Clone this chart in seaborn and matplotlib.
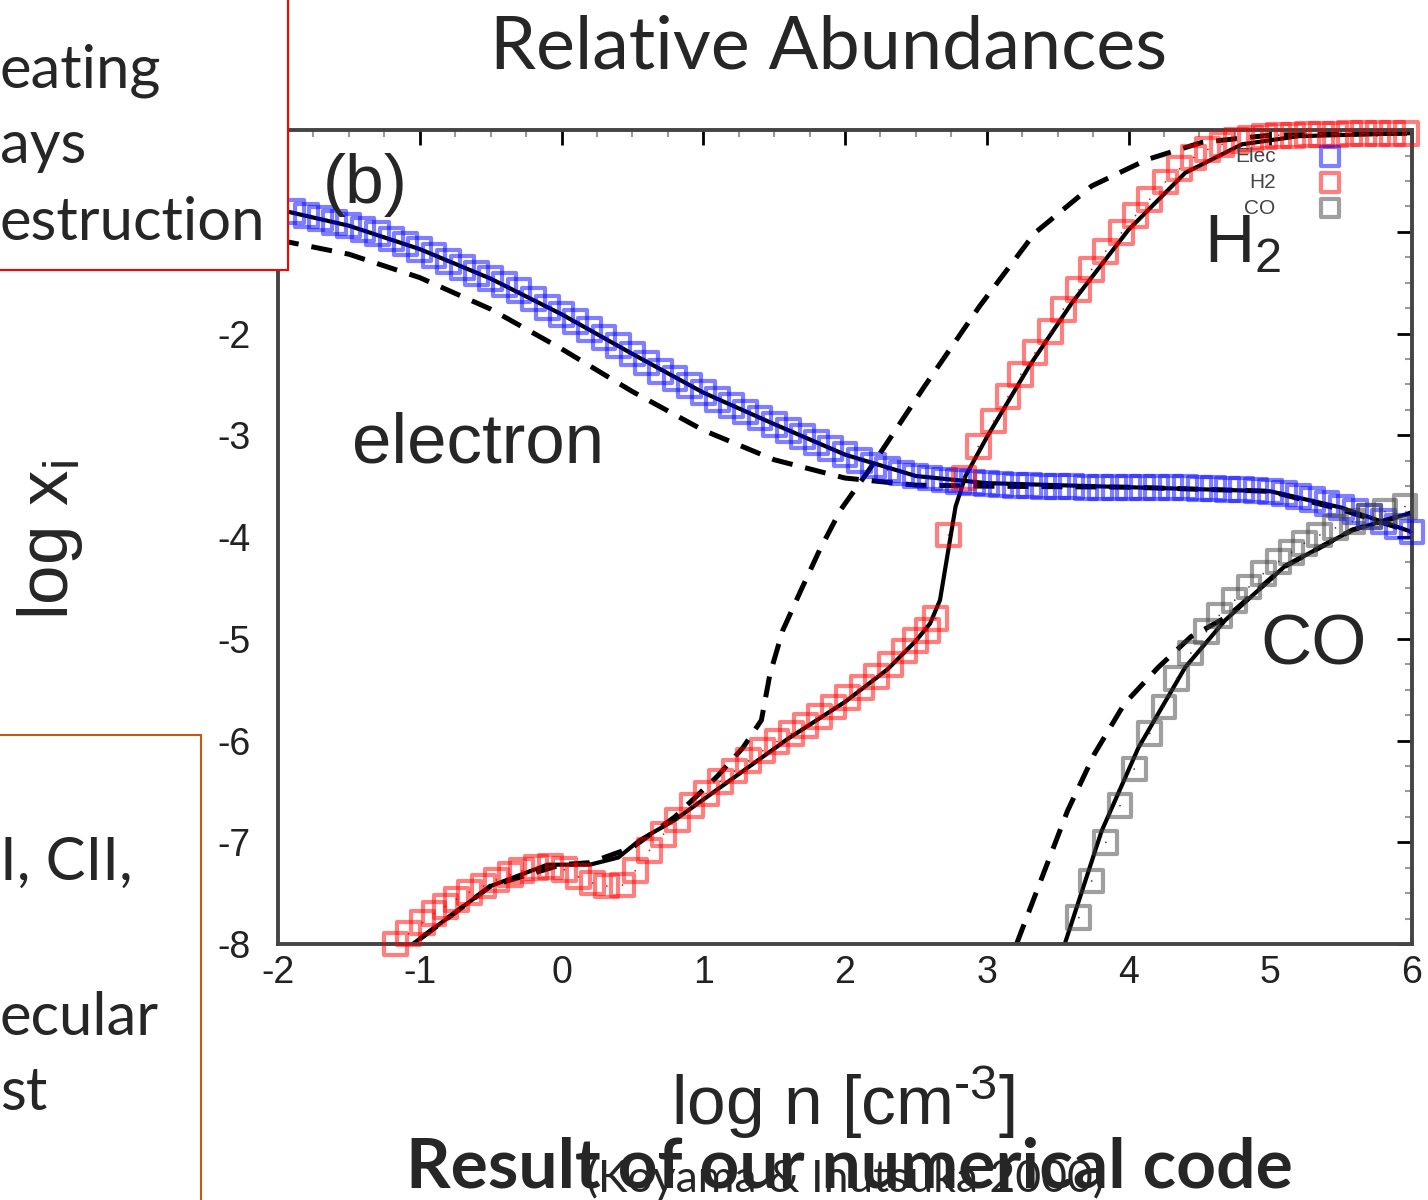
import numpy as np
import pandas as pd
import matplotlib.pyplot as plt
import seaborn as sns
from matplotlib.patches import Rectangle
from matplotlib.ticker import AutoMinorLocator

# --- electron, our code (blue squares)
elec_x = [-1.9, -1.8, -1.7, -1.6, -1.5, -1.4, -1.3, -1.2, -1.1, -1.0,
          -0.9, -0.8, -0.7, -0.6, -0.5, -0.4, -0.3, -0.2, -0.1, 0.0,
          0.1, 0.2, 0.3, 0.4, 0.5, 0.6, 0.7, 0.8, 0.9, 1.0,
          1.1, 1.2, 1.3, 1.4, 1.5, 1.6, 1.7, 1.8, 1.9, 2.0,
          2.1, 2.2, 2.3, 2.4, 2.5, 2.6, 2.7, 2.8, 2.9, 3.0,
          3.1, 3.2, 3.3, 3.4, 3.5, 3.6, 3.7, 3.8, 3.9, 4.0,
          4.1, 4.2, 4.3, 4.4, 4.5, 4.6, 4.7, 4.8, 4.9, 5.0,
          5.1, 5.2, 5.3, 5.4, 5.5, 5.6, 5.7, 5.8, 5.9, 6.0]
elec_y = [-0.80, -0.84, -0.87, -0.91, -0.94, -0.98, -1.02, -1.07, -1.12, -1.17,
          -1.23, -1.29, -1.35, -1.41, -1.46, -1.52, -1.58, -1.66, -1.74, -1.81,
          -1.88, -1.96, -2.04, -2.12, -2.20, -2.29, -2.37, -2.44, -2.51, -2.58,
          -2.65, -2.71, -2.77, -2.83, -2.89, -2.95, -3.01, -3.07, -3.13, -3.19,
          -3.25, -3.30, -3.34, -3.37, -3.40, -3.42, -3.44, -3.45, -3.46, -3.47,
          -3.48, -3.49, -3.49, -3.50, -3.50, -3.50, -3.51, -3.51, -3.51, -3.51,
          -3.51, -3.51, -3.51, -3.51, -3.52, -3.52, -3.53, -3.53, -3.54, -3.55,
          -3.57, -3.60, -3.63, -3.67, -3.71, -3.75, -3.80, -3.85, -3.90, -3.95]

# --- H2, our code (red squares)
h2_x = [-1.17, -1.08, -0.98, -0.90, -0.82, -0.74, -0.65, -0.55, -0.46, -0.36,
        -0.28, -0.18, -0.08, 0.02, 0.12, 0.22, 0.32, 0.43, 0.52, 0.62,
        0.72, 0.82, 0.92, 1.02, 1.12, 1.22, 1.32, 1.42, 1.52, 1.62,
        1.72, 1.82, 1.92, 2.02, 2.12, 2.22, 2.32, 2.42, 2.50, 2.58,
        2.64, 2.73, 2.84, 2.94, 3.05, 3.15, 3.24, 3.34, 3.45, 3.54,
        3.65, 3.74, 3.84, 3.95, 4.05, 4.15, 4.26, 4.36, 4.46, 4.56,
        4.66, 4.76, 4.86, 4.96, 5.06, 5.16, 5.26, 5.36, 5.46, 5.56,
        5.66, 5.76, 5.86, 5.96]
h2_y = [-8.00, -7.90, -7.79, -7.70, -7.63, -7.56, -7.49, -7.43, -7.37, -7.32,
        -7.28, -7.25, -7.24, -7.27, -7.34, -7.40, -7.43, -7.42, -7.28, -7.08,
        -6.92, -6.78, -6.64, -6.52, -6.40, -6.30, -6.20, -6.10, -6.01, -5.93,
        -5.85, -5.76, -5.67, -5.58, -5.48, -5.37, -5.25, -5.12, -5.02, -4.92,
        -4.80, -3.98, -3.42, -3.11, -2.86, -2.62, -2.40, -2.19, -1.98, -1.76,
        -1.57, -1.37, -1.19, -1.01, -0.84, -0.68, -0.51, -0.38, -0.27, -0.19,
        -0.14, -0.10, -0.08, -0.06, -0.05, -0.05, -0.04, -0.04, -0.04, -0.03,
        -0.03, -0.03, -0.03, -0.03]

# --- CO, our code (gray squares)
co_x = [3.65, 3.74, 3.84, 3.94, 4.04, 4.15, 4.25, 4.34, 4.44, 4.55,
        4.64, 4.75, 4.85, 4.95, 5.06, 5.15, 5.24, 5.35, 5.46, 5.58,
        5.70, 5.81, 5.95]
co_y = [-7.74, -7.38, -7.00, -6.64, -6.28, -5.93, -5.67, -5.39, -5.14, -4.93,
        -4.77, -4.62, -4.49, -4.36, -4.24, -4.15, -4.06, -3.98, -3.91, -3.85,
        -3.80, -3.75, -3.70]

# --- reference curves, solid
ref_elec_x = [-2.0, -1.5, -1.0, -0.5, 0.0, 0.5, 1.0, 1.5, 2.0, 2.5, 3.0, 4.0, 5.0, 5.5, 6.0]
ref_elec_y = [-0.78, -0.94, -1.17, -1.46, -1.81, -2.20, -2.58, -2.89, -3.19, -3.40, -3.47, -3.51, -3.55, -3.71, -3.95]
ref_h2_x = [-1.05, -0.5, -0.1, 0.2, 0.4, 0.55, 0.8, 1.2, 1.6, 2.0, 2.3, 2.5, 2.6,
            2.67, 2.72, 2.78, 2.85, 3.0, 3.3, 3.6, 4.0, 4.4, 4.8, 5.2, 6.0]
ref_h2_y = [-8.00, -7.43, -7.22, -7.22, -7.15, -6.98, -6.78, -6.38, -5.98, -5.62, -5.30, -5.02, -4.85,
            -4.62, -4.20, -3.70, -3.40, -3.02, -2.32, -1.70, -0.98, -0.42, -0.14, -0.06, -0.03]
ref_co_x = [3.55, 3.81, 4.07, 4.40, 4.68, 5.10, 5.58, 6.0]
ref_co_y = [-8.00, -6.89, -6.07, -5.28, -4.82, -4.29, -3.93, -3.76]

# --- Koyama & Inutsuka 2000, dashed
ki_elec_x = [-2.0, -1.5, -1.0, -0.5, 0.0, 0.5, 1.0, 1.5, 2.0, 2.5, 3.0, 4.0, 5.0, 5.5, 6.0]
ki_elec_y = [-1.08, -1.22, -1.45, -1.76, -2.15, -2.57, -2.95, -3.24, -3.42, -3.49, -3.50, -3.51, -3.55, -3.73, -3.95]
ki_h2_x = [-1.0, -0.5, 0.0, 0.2, 0.5, 0.8, 1.1, 1.28, 1.41, 1.47, 1.56, 1.69, 1.82,
           1.97, 2.17, 2.56, 2.95, 3.34, 3.74, 4.13, 4.52, 5.0, 6.0]
ki_h2_y = [-7.95, -7.43, -7.22, -7.20, -7.05, -6.75, -6.35, -6.07, -5.80, -5.35, -4.92, -4.52, -4.13,
           -3.73, -3.34, -2.52, -1.73, -1.01, -0.55, -0.29, -0.12, -0.05, -0.03]
ki_co_x = [3.21, 3.38, 3.57, 3.76, 3.97, 4.21, 4.44, 4.70, 5.10, 5.58, 6.0]
ki_co_y = [-8.00, -7.38, -6.69, -6.13, -5.64, -5.28, -4.98, -4.78, -4.29, -3.93, -3.76]

ytick_vals = [-8, -7, -6, -5, -4, -3, -2, -1]
ytick_text = ['-8', '-7', '-6', '-5', '-4', '-3', '-2', '']  # -1 hidden under the box

sns.set_theme(style="white")
plt.rcParams['font.family'] = ['Liberation Sans', 'DejaVu Sans']
plt.rcParams['mathtext.fontset'] = 'custom'
plt.rcParams['mathtext.rm'] = 'Liberation Sans'
plt.rcParams['mathtext.it'] = 'Liberation Sans:italic'
plt.rcParams['axes.unicode_minus'] = False

fig = plt.figure(figsize=(14.28, 12), dpi=100)
ax = fig.add_axes([0.1947, 0.2133, 0.7941, 0.6783])

# reference lines
for xs, ys in [(ref_elec_x, ref_elec_y), (ref_h2_x, ref_h2_y), (ref_co_x, ref_co_y)]:
    sns.lineplot(x=xs, y=ys, ax=ax, color='black', lw=3.0, sort=False, estimator=None)
for xs, ys in [(ki_elec_x, ki_elec_y), (ki_h2_x, ki_h2_y), (ki_co_x, ki_co_y)]:
    sns.lineplot(x=xs, y=ys, ax=ax, color='black', lw=3.6, sort=False, estimator=None,
                 linestyle=(0, (4.2, 2.6)))

species = [("Elec", elec_x, elec_y, (0.0, 0.0, 1.0)),
           ("H2", h2_x, h2_y, (1.0, 0.0, 0.0)),
           ("CO", co_x, co_y, (0.25, 0.25, 0.25))]
for name, xs, ys, col in species:
    sns.scatterplot(x=xs, y=ys, ax=ax, marker='s', s=270, facecolor='none',
                    edgecolor=col, color=col, linewidth=3.0, alpha=0.5,
                    label=name, clip_on=False, zorder=3)
    sns.scatterplot(x=xs, y=ys, ax=ax, marker='.', s=6, color=col, edgecolor='none',
                    clip_on=False, zorder=4, legend=False)

ax.set_xlim(-2, 6)
ax.set_ylim(-8, 0)
ax.set_xticks(range(-2, 7))
ax.set_yticks(ytick_vals)
ax.set_yticklabels(ytick_text)
ax.xaxis.set_minor_locator(AutoMinorLocator(4))
ax.yaxis.set_minor_locator(AutoMinorLocator(4))
ax.tick_params(which='major', direction='in', length=11, width=2, color='black',
               top=True, right=True, labelsize=27, labelcolor='#222222')
ax.tick_params(which='minor', direction='in', length=5, width=1.5, color='#999999',
               top=True, right=True)
ax.tick_params(axis='y', which='major', pad=20)
ax.tick_params(axis='x', which='major', pad=8)
for sp in ax.spines.values():
    sp.set_color('#444444')
    sp.set_linewidth(2.8)
ax.set_xlabel('')
ax.set_ylabel('')

handles, labels = ax.get_legend_handles_labels()
leg = ax.legend(handles[:3], labels[:3], loc='upper right', bbox_to_anchor=(0.955, 0.992),
                markerfirst=False, frameon=False, fontsize=15, labelspacing=0.33,
                markerscale=0.8, handletextpad=1.6, borderpad=0, labelcolor='#444444')

# in-plot labels
ax.text(0.039, 0.932, '(b)', transform=ax.transAxes, fontsize=50, ha='left', va='center')
ax.text(0.065, 0.592, 'electron', transform=ax.transAxes, fontsize=51, ha='left', va='baseline')
ax.text(0.817, 0.838, 'H$_2$', transform=ax.transAxes, fontsize=50, ha='left', va='baseline')
ax.text(0.866, 0.343, 'CO', transform=ax.transAxes, fontsize=51, ha='left', va='baseline')

# axis labels (as on the slide)
fig.text(0.035, 0.55, 'log x$_\\mathrm{i}$', rotation=90, fontsize=51, ha='center', va='center')
fig.text(0.590, 0.0625, 'log n [cm$^{\\text{-}3}$]', fontsize=50, ha='center', va='baseline')

# slide texts
fig.text(0.580, 0.9433, 'Relative Abundances', fontsize=53, family='Lato',
         ha='center', va='baseline')
fig.text(0.592, 0.007, '(Koyama & Inutsuka 2000)', fontsize=32, family='Lato',
         ha='center', va='baseline')
fig.text(0.595, 0.010, 'Result of our numerical code', fontsize=50, family='Lato',
         fontweight='bold', ha='center', va='baseline')

# side boxes cut by the slide edge
fig.add_artist(Rectangle((-0.01, 1 - 270 / 1200), 0.01 + 288 / 1428, 0.25,
                         transform=fig.transFigure, facecolor='white',
                         edgecolor='#ff0000', lw=1.5, zorder=10))
for txt, base in [('eating', 88), ('ays', 163), ('estruction', 240)]:
    fig.text(0.0, 1 - base / 1200, txt, fontsize=43, family='Lato',
             ha='left', va='baseline', zorder=11)

fig.add_artist(Rectangle((-0.01, -0.01), 0.01 + 201 / 1428, 0.01 + (1200 - 735) / 1200,
                         transform=fig.transFigure, facecolor='white',
                         edgecolor='#c55a11', lw=1.5, zorder=10))
for txt, base in [('I, CII,', 880), ('ecular', 1035), ('st', 1110)]:
    fig.text(0.0, 1 - base / 1200, txt, fontsize=43, family='Lato',
             ha='left', va='baseline', zorder=11)

fig.savefig('out.png', dpi=100)
